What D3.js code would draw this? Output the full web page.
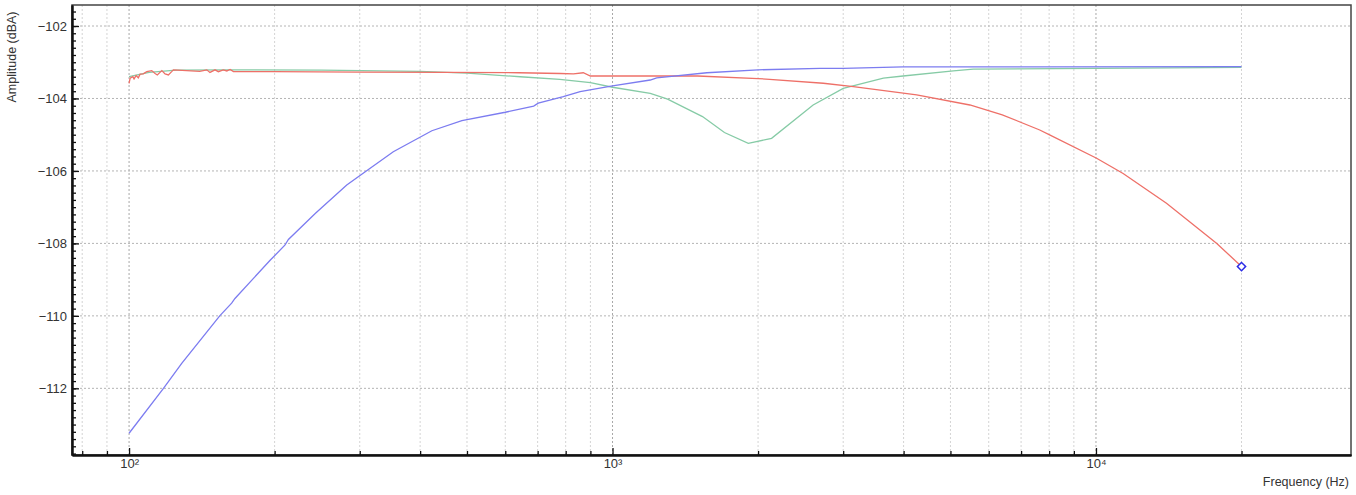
<!DOCTYPE html>
<html>
<head>
<meta charset="utf-8">
<script src="https://cdn.jsdelivr.net/npm/d3@7"></script>
<style>
  body { margin: 0; background: #fff; }
  text { font-family: "Liberation Sans", Arial, sans-serif; fill: #333; }
</style>
</head>
<body>
<svg width="1356" height="495"></svg>
<script>
// series values (Hz, dBA)
var blueFreq = [100, 117.8, 128.5, 154, 163, 165.6, 196, 210, 213.6, 243, 282, 308, 352, 423, 488, 600, 687, 702, 791, 857, 1000, 1197, 1234, 1567, 2000, 2686, 3000, 3990, 7650, 20000];
var blueAmp = [-113.24, -112.0, -111.31, -110.0, -109.65, -109.52, -108.46, -108.05, -107.89, -107.17, -106.39, -106.02, -105.47, -104.89, -104.61, -104.38, -104.21, -104.13, -103.95, -103.81, -103.65, -103.49, -103.43, -103.29, -103.21, -103.17, -103.17, -103.13, -103.13, -103.12];

var redFreq = [100, 100.5, 101.8, 102.4, 103.4, 104.5, 105.4, 107.0, 108.8, 111.4, 113.2, 114.4, 116.9, 118.7, 120.6, 122.5, 123.5,
  140, 144.8, 147.0, 150.6, 153.0, 156.6, 159.3, 161.8, 164.4,
  200, 300, 450, 640, 780, 830, 870, 900, 1000, 1500, 2000, 2113, 2729, 3148, 4257, 5485, 6400, 7650, 8037, 10030, 11380, 13990, 17780, 20000];
var redAmp = [-103.58, -103.44, -103.40, -103.46, -103.37, -103.43, -103.33, -103.32, -103.26, -103.23, -103.31, -103.35, -103.23, -103.32, -103.35, -103.26, -103.21,
  -103.25, -103.21, -103.28, -103.21, -103.26, -103.21, -103.24, -103.20, -103.26,
  -103.26, -103.27, -103.28, -103.29, -103.31, -103.32, -103.29, -103.38, -103.38, -103.38, -103.45, -103.47, -103.58, -103.67, -103.9, -104.18, -104.45, -104.87, -105.01, -105.65, -106.07, -106.89, -108.0, -108.64];

var greenFreq = [100, 110, 125, 160, 250, 400, 500, 644, 778, 900, 1000, 1197, 1300, 1535, 1704, 1909, 2133, 2600, 3000, 3633, 3990, 5070, 5573, 10000, 20000];
var greenAmp = [-103.4, -103.28, -103.22, -103.21, -103.22, -103.25, -103.3, -103.4, -103.47, -103.56, -103.69, -103.86, -104.02, -104.5, -104.94, -105.24, -105.1, -104.18, -103.72, -103.44, -103.38, -103.24, -103.19, -103.17, -103.14];

var markerPt = [20000, -108.64];

// ticks
var xMajorTicks = [100, 1000, 10000];
var xMajorLabels = ["10²", "10³", "10⁴"];
var xMinorTicks = [80, 90, 200, 300, 400, 500, 600, 700, 800, 900,
  2000, 3000, 4000, 5000, 6000, 7000, 8000, 9000, 20000];
var yMajorTicks = [-112, -110, -108, -106, -104, -102];

var svg = d3.select("svg");
var L = 72, T = 5, R = 1351, B = 455;

var scX = d3.scaleLog().domain([76.2, 33690]).range([L, R]);
var scY = d3.scaleLinear().domain([-113.84, -101.42]).range([B, T]);
var yMinorTicks = d3.range(-113.8, -101.5, 0.2).map(v => +v.toFixed(1));

// grid
var grid = svg.append("g");
grid.selectAll("line.gx").data(xMinorTicks).enter().append("line")
  .attr("x1", d => scX(d)).attr("x2", d => scX(d)).attr("y1", T).attr("y2", B)
  .attr("stroke", "#d4d4d4").attr("stroke-dasharray", "2,2");
grid.selectAll("line.gX").data(xMajorTicks).enter().append("line")
  .attr("x1", d => scX(d)).attr("x2", d => scX(d)).attr("y1", T).attr("y2", B)
  .attr("stroke", "#a8a8a8").attr("stroke-dasharray", "2,2");
grid.selectAll("line.gy").data(yMajorTicks).enter().append("line")
  .attr("x1", L).attr("x2", R).attr("y1", d => scY(d)).attr("y2", d => scY(d))
  .attr("stroke", "#b4b4b4").attr("stroke-dasharray", "2,2");

// curves
var lnMkr = function (fr, am, color) {
  var pts = fr.map((f, i) => [f, am[i]]);
  var dStr = d3.line().x(d => scX(d[0])).y(d => scY(d[1]));
  svg.append("path").attr("fill", "none").attr("stroke", color)
    .attr("stroke-width", 1.3).attr("d", dStr(pts));
};
lnMkr(greenFreq, greenAmp, "#86cba6");
lnMkr(redFreq, redAmp, "#ee7068");
lnMkr(blueFreq, blueAmp, "#7c7cf0");

svg.append("path")
  .attr("d", d3.symbol(d3.symbolSquare, 34)())
  .attr("transform", "translate(" + scX(markerPt[0]) + "," + scY(markerPt[1]) + ") rotate(45)")
  .attr("fill", "#fff").attr("stroke", "#2b2be6").attr("stroke-width", 1.5);

// frame
svg.append("rect").attr("x", L).attr("y", T).attr("width", R - L).attr("height", B - T)
  .attr("fill", "none").attr("stroke", "#444").attr("stroke-width", 1.5);

// axes
var ax = svg.append("g").attr("transform", "translate(0," + B + ")");
ax.call(d3.axisBottom(scX).tickValues(xMinorTicks).tickSize(-4).tickSizeOuter(0).tickFormat(""));
var axM = svg.append("g").attr("transform", "translate(0," + B + ")")
  .call(d3.axisBottom(scX).tickValues(xMajorTicks).tickSize(-7).tickSizeOuter(0).tickPadding(4)
    .tickFormat((d, i) => xMajorLabels[i]));
svg.append("g").attr("transform", "translate(" + L + ",0)")
  .call(d3.axisLeft(scY).tickValues(yMinorTicks).tickSize(-4).tickSizeOuter(0).tickFormat(""));
svg.append("g").attr("transform", "translate(" + L + ",0)")
  .call(d3.axisLeft(scY).tickValues(yMajorTicks).tickSize(-7).tickSizeOuter(0).tickPadding(5));

svg.selectAll(".domain").attr("stroke", "#111").attr("stroke-width", 2);
svg.selectAll(".tick line").attr("stroke", "#111").attr("stroke-width", 1.3);
svg.selectAll(".tick text").style("font-size", "13px").style("fill", "#333")
  .style("font-family", "'Liberation Sans', Arial, sans-serif");

// axis titles
svg.append("text").attr("transform", "translate(16,57) rotate(-90)")
  .attr("text-anchor", "middle").style("font-size", "12.5px").text("Amplitude (dBA)");
svg.append("text").attr("x", 1349).attr("y", 486)
  .attr("text-anchor", "end").style("font-size", "12.5px").text("Frequency (Hz)");
</script>
</body>
</html>
